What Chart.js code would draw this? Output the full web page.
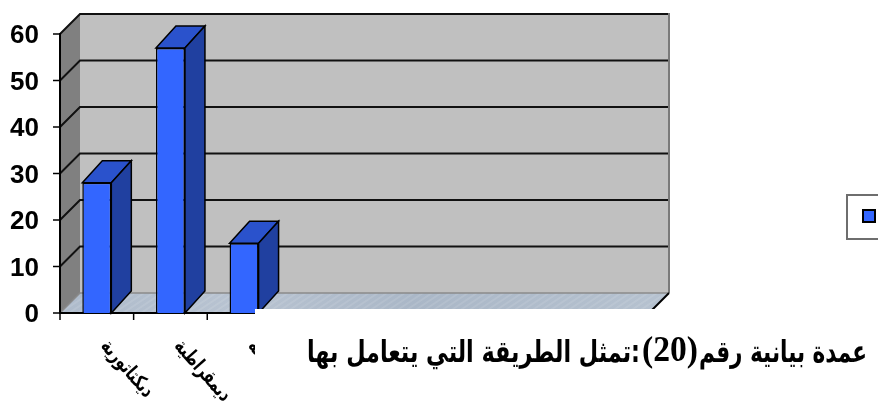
<!DOCTYPE html>
<html>
<head>
<meta charset="utf-8">
<script src="https://cdn.jsdelivr.net/npm/chart.js@4/dist/chart.umd.min.js"></script>
<style>
  html, body { margin: 0; padding: 0; background: #ffffff; }
  #wrap { width: 878px; height: 403px; position: relative; overflow: hidden; }
</style>
</head>
<body>
<div id="wrap"><canvas id="chart" width="878" height="403"></canvas></div>
<script>
// Categories on the horizontal axis (eight slots, three of them used)
const categories = ['ديكتاتورية', 'ديمقراطية', 'متساهلة', '', '', '', '', ''];
// Percentage of answers per category
const percentages = [28, 57, 15];
// Value axis ticks
const yTicks = [0, 10, 20, 30, 40, 50, 60];
// Legend entry
const seriesName = 'سلسلة1';
// Caption under the chart, split so the number can use its own font
const captionParts = ['عمدة بيانية رقم', '(20)', ':تمثل الطريقة التي يتعامل بها'];

// Depth offsets of the 3-D box and of the columns
const WALL_DX = 20, WALL_DY = 20;
const BAR_DX = 20, BAR_DY = 22;

function poly(ctx, pts) {
  ctx.beginPath();
  ctx.moveTo(pts[0][0], pts[0][1]);
  for (let i = 1; i < pts.length; i++) ctx.lineTo(pts[i][0], pts[i][1]);
  ctx.closePath();
}
function line(ctx, x1, y1, x2, y2, color, w) {
  ctx.beginPath();
  ctx.moveTo(x1, y1);
  ctx.lineTo(x2, y2);
  ctx.strokeStyle = color;
  ctx.lineWidth = w;
  ctx.stroke();
}
// Draw text squeezed or stretched horizontally into a given span
function fitText(ctx, text, font, xLeft, xRight, baseline, dir) {
  ctx.save();
  ctx.font = font;
  ctx.direction = dir;
  ctx.textAlign = 'left';
  ctx.textBaseline = 'alphabetic';
  const w = ctx.measureText(text).width;
  const sx = (xRight - xLeft) / w;
  ctx.translate(xLeft, baseline);
  ctx.scale(sx, 1);
  ctx.fillStyle = '#000';
  ctx.fillText(text, 0, 0);
  ctx.restore();
}

const box3d = {
  id: 'box3d',
  beforeDatasetsDraw(chart) {
    const { ctx, chartArea: a, scales: { x, y } } = chart;
    const L = a.left, R = a.right, T = a.top, B = a.bottom;
    ctx.save();
    // side wall
    ctx.fillStyle = '#808080';
    poly(ctx, [[L, T], [L + WALL_DX, T - WALL_DY], [L + WALL_DX, B - WALL_DY], [L, B]]);
    ctx.fill();
    // back wall
    ctx.fillStyle = '#c0c0c0';
    ctx.fillRect(L + WALL_DX, T - WALL_DY, R - L, B - T);
    // floor
    const g = ctx.createLinearGradient(L, B, R, B - WALL_DY);
    g.addColorStop(0, '#aebbcb');
    g.addColorStop(0.3, '#b8c3d1');
    g.addColorStop(0.6, '#aab7c7');
    g.addColorStop(1, '#b5c1cf');
    ctx.fillStyle = g;
    poly(ctx, [[L, B], [L + WALL_DX, B - WALL_DY], [R + WALL_DX, B - WALL_DY], [R, B]]);
    ctx.fill();
    // faint streaks on the floor
    ctx.save();
    poly(ctx, [[L, B], [L + WALL_DX, B - WALL_DY], [R + WALL_DX, B - WALL_DY], [R, B]]);
    ctx.clip();
    for (let sx = L; sx < R + 40; sx += 9) {
      line(ctx, sx, B, sx + 30, B - 20, 'rgba(255,255,255,0.10)', 2);
    }
    ctx.restore();

    // gridlines on side and back walls
    yTicks.forEach(v => {
      const yy = y.getPixelForValue(v);
      const col = v === 0 ? '#8a8a8a' : '#111';
      const lw = v === 0 ? 1.5 : 2;
      ctx.beginPath();
      ctx.moveTo(L, yy);
      ctx.lineTo(L + WALL_DX, yy - WALL_DY);
      ctx.lineTo(R + WALL_DX, yy - WALL_DY);
      ctx.strokeStyle = col;
      ctx.lineWidth = lw;
      ctx.stroke();
    });
    // back wall right edge
    line(ctx, R + WALL_DX, T - WALL_DY - 1, R + WALL_DX, B - WALL_DY, '#7a7a7a', 2);
    // value axis line and ticks
    line(ctx, L, T - 1, L, B + 1, '#000', 2);
    ctx.font = 'bold 26px "Liberation Sans", Arial, sans-serif';
    ctx.fillStyle = '#000';
    ctx.textAlign = 'right';
    ctx.textBaseline = 'middle';
    yTicks.forEach(v => {
      const yy = y.getPixelForValue(v);
      line(ctx, L - 7, yy, L, yy, '#000', 1.5);
      ctx.fillText(String(v), L - 21, yy + 2);
    });
    // category axis line, floor edge and ticks
    line(ctx, L - 1, B, R, B, '#000', 2);
    line(ctx, R, B, R + WALL_DX, B - WALL_DY, '#000', 2);
    const step = x.getPixelForValue(1) - x.getPixelForValue(0);
    for (let i = 0; i <= categories.length; i++) {
      const xx = x.getPixelForValue(0) - step / 2 + i * step;
      line(ctx, xx, B, xx, B + 7, '#000', 1.5);
    }
    // category labels, turned down to the right
    ctx.font = 'bold 20px "DejaVu Sans", sans-serif';
    ctx.direction = 'rtl';
    ctx.textAlign = 'left';
    ctx.textBaseline = 'middle';
    categories.forEach((c, i) => {
      if (!c) return;
      const cx = x.getPixelForValue(i);
      ctx.save();
      ctx.translate(cx + 7, B + 30);
      ctx.rotate(Math.PI * 0.27);
      ctx.scale(0.72, 1);
      ctx.fillText(c, 0, 0);
      ctx.restore();
    });
    ctx.restore();
  },
  afterDatasetsDraw(chart) {
    const { ctx } = chart;
    const meta = chart.getDatasetMeta(0);
    ctx.save();
    ctx.lineJoin = 'miter';
    meta.data.forEach(bar => {
      const p = bar.getProps(['x', 'y', 'base', 'width'], true);
      const l = p.x - p.width / 2, r = p.x + p.width / 2, t = p.y, b = p.base;
      // top face
      poly(ctx, [[l, t], [l + BAR_DX, t - BAR_DY], [r + BAR_DX, t - BAR_DY], [r, t]]);
      ctx.fillStyle = '#2a52cc';
      ctx.fill();
      ctx.strokeStyle = '#000';
      ctx.lineWidth = 1.5;
      ctx.stroke();
      // side face
      poly(ctx, [[r, t], [r + BAR_DX, t - BAR_DY], [r + BAR_DX, b - BAR_DY], [r, b]]);
      ctx.fillStyle = '#2040a0';
      ctx.fill();
      ctx.stroke();
    });
    ctx.restore();
  },
  afterDraw(chart) {
    const { ctx } = chart;
    ctx.save();
    // caption text box
    ctx.fillStyle = '#ffffff';
    ctx.fillRect(255, 309, 878 - 255, 403 - 309);
    fitText(ctx, captionParts[0], 'bold 30px "DejaVu Sans", sans-serif', 699, 867, 362, 'rtl');
    fitText(ctx, captionParts[1], 'bold 36px "Liberation Serif", "Times New Roman", serif', 642, 698, 361, 'ltr');
    fitText(ctx, captionParts[2], 'bold 30px "DejaVu Sans", sans-serif', 307, 640, 362, 'rtl');

    // legend box
    ctx.fillStyle = '#ffffff';
    ctx.fillRect(847, 195, 120, 44);
    ctx.strokeStyle = '#6e6e6e';
    ctx.lineWidth = 2;
    ctx.strokeRect(847, 195, 120, 44);
    ctx.fillStyle = '#3366ff';
    ctx.fillRect(863, 210, 12, 12);
    ctx.strokeStyle = '#000';
    ctx.lineWidth = 2;
    ctx.strokeRect(863, 210, 12, 12);
    ctx.font = 'bold 16px "DejaVu Sans", sans-serif';
    ctx.fillStyle = '#000';
    ctx.textAlign = 'left';
    ctx.textBaseline = 'middle';
    ctx.fillText(seriesName, 882, 217);
    ctx.restore();
  }
};

new Chart(document.getElementById('chart'), {
  type: 'bar',
  data: {
    labels: categories,
    datasets: [{
      label: seriesName,
      data: percentages,
      backgroundColor: '#3366ff',
      borderColor: '#000000',
      borderWidth: 1.5,
      barPercentage: 0.394,
      categoryPercentage: 1
    }]
  },
  options: {
    responsive: false,
    animation: false,
    devicePixelRatio: 1,
    layout: { padding: { left: 60, top: 34, right: 229, bottom: 90 } },
    plugins: { legend: { display: false }, tooltip: { enabled: false } },
    scales: {
      x: { display: false, offset: true },
      y: { display: false, min: 0, max: 60 }
    }
  },
  plugins: [box3d]
});
</script>
</body>
</html>
